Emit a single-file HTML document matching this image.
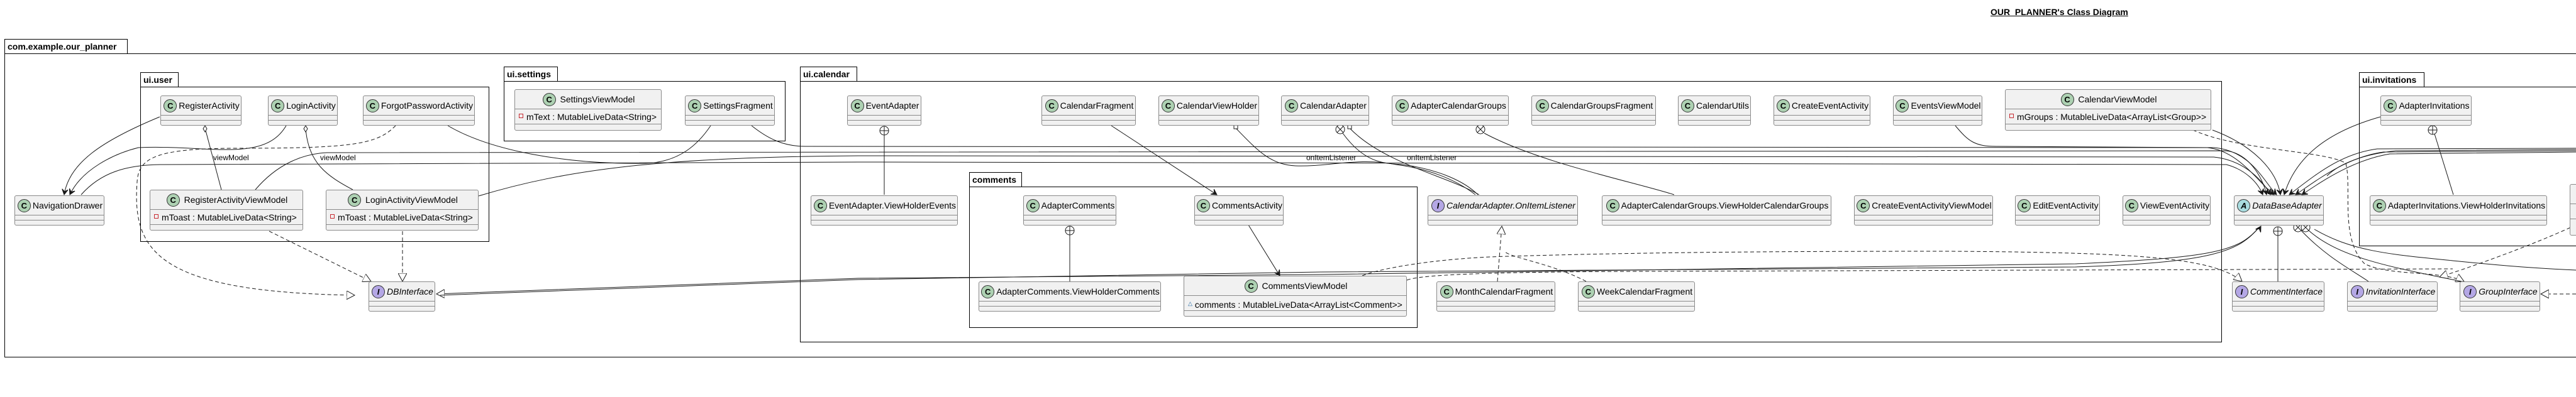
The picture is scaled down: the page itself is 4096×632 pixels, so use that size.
<!DOCTYPE html>
<html><head><meta charset="utf-8"><style>
body{margin:0;width:4096px;height:632px;background:#fff;position:relative;overflow:hidden;font-family:"Liberation Sans",sans-serif}
.c{position:absolute;background:#f1f1f1;border:1px solid #8a8a8a;border-radius:3px;box-sizing:border-box;font-size:14px;color:#000}
.h{height:31px;border-bottom:1px solid #8a8a8a;display:flex;align-items:center;justify-content:center;white-space:nowrap;gap:3px;box-sizing:border-box}
.s{height:8px;border-bottom:1px solid #8a8a8a;box-sizing:border-box}
.a{height:24px;border-bottom:1px solid #8a8a8a;box-sizing:border-box;font-size:14px;padding-left:6px;line-height:24px;white-space:nowrap}
.i{display:inline-block;width:19px;height:19px;border-radius:50%;border:1px solid #333;text-align:center;line-height:19px;font-weight:bold;font-size:13px;flex:none;margin-left:2px}
.C{background:#add1b2}.I{background:#b4a7e5}.A{background:#a9dcdf}
.it{font-style:italic}
.p{position:absolute;border:1.5px solid #000;box-sizing:border-box}
.t{position:absolute;border:1.5px solid #000;border-bottom:none;box-sizing:border-box;font-weight:bold;font-size:14px;padding:3px 4px;background:#fff;white-space:nowrap}
.sq{display:inline-block;width:5px;height:5px;border:1px solid #c82930;margin-right:5px;vertical-align:3px}
.tr{display:inline-block;color:#1963a0;font-size:9px;margin-right:4px;vertical-align:4px}
svg{position:absolute;left:0;top:0}
.lbl{font-size:12px}
</style></head><body>
<div style="position:absolute;left:3165px;top:11px;font-weight:bold;font-size:14px;text-decoration:underline">OUR&nbsp; PLANNER's Class Diagram</div>

<div class="t" style="left:7px;top:62px;width:196px;height:24px">com.example.our_planner</div>
<div class="p" style="left:7px;top:85px;width:4200px;height:484px"></div>

<div class="t" style="left:223px;top:115px;width:61px;height:24px">ui.user</div>
<div class="p" style="left:223px;top:138px;width:555px;height:247px"></div>
<div class="t" style="left:801px;top:106px;width:86px;height:24px">ui.settings</div>
<div class="p" style="left:801px;top:129px;width:448px;height:96px"></div>
<div class="t" style="left:1272px;top:106px;width:91px;height:24px">ui.calendar</div>
<div class="p" style="left:1272px;top:129px;width:2261px;height:416px"></div>
<div class="t" style="left:1541px;top:274px;width:84px;height:24px">comments</div>
<div class="p" style="left:1541px;top:297px;width:713px;height:225px"></div>
<div class="t" style="left:3751px;top:115px;width:104px;height:24px">ui.invitations</div>
<div class="p" style="left:3751px;top:138px;width:500px;height:254px"></div>

<svg width="4096" height="632" fill="none" stroke="#181818" stroke-width="1">
<defs>
<marker id="ar" markerWidth="10" markerHeight="10" refX="9" refY="5" orient="auto" markerUnits="userSpaceOnUse"><path d="M0,0 L9,5 L0,10 L4,5 Z" fill="#181818"/></marker>
<marker id="tri" markerWidth="14" markerHeight="14" refX="13" refY="7" orient="auto" markerUnits="userSpaceOnUse"><path d="M0,0 L13,7 L0,14 Z" fill="#fff" stroke="#181818"/></marker>
</defs>
<!-- ui.user connectors -->
<path d="M254,186 C160,225 110,260 102,310" marker-end="url(#ar)"/>
<path d="M455,200 C420,260 330,230 220,235 C180,245 130,270 111,310" marker-end="url(#ar)"/>
<path d="M129,310 C160,275 200,262 260,262 L1365,258 L3540,262 C3570,270 3590,290 3598,310" marker-end="url(#ar)"/>
<path d="M406,302 C440,262 480,245 520,243 L3540,240 C3580,245 3600,290 3604,310" marker-end="url(#ar)"/>
<path d="M761,312 C900,270 1050,250 1365,248 L3520,250 C3570,255 3600,290 3610,310" marker-end="url(#ar)"/>
<path d="M712,200 C780,240 900,262 1027,260 C1080,258 1110,230 1130,200"/>
<path d="M1195,200 C1220,220 1245,233 1280,233 L3510,235 C3560,240 3590,290 3616,310" marker-end="url(#ar)"/>
<path d="M629,200 C600,230 560,236 380,236 C250,236 220,250 218,290 C210,400 250,465 564,470" stroke-dasharray="6,4" marker-end="url(#tri)"/>
<path d="M326,204 L352,302"/><path d="M326,200 l-3,5 l3,5 l3,-5 z" fill="#fff"/>
<path d="M486,204 C490,260 520,280 561,302"/><path d="M486,200 l-3,5 l3,5 l3,-5 z" fill="#fff"/>
<path d="M428,368 L590,448" stroke-dasharray="6,4" marker-end="url(#tri)"/>
<path d="M640,368 L640,448" stroke-dasharray="6,4" marker-end="url(#tri)"/>
<path d="M3592,362 C3560,400 3520,410 3300,420 L2100,437 L1365,443 L694,468" marker-end="url(#tri)"/>
<path d="M3592,362 C3560,400 3520,418 3300,425 L2100,433 L1365,445 L700,470"/>
<!-- calendar -->
<path d="M1406,215 L1406,310"/><circle cx="1406" cy="208" r="7" fill="#fff"/><path d="M1399,208h14M1406,201v14"/>
<path d="M1767,200 L1935,310" marker-end="url(#ar)"/>
<path d="M1985,358 L2035,439" marker-end="url(#ar)"/>
<path d="M1701,374 L1701,448"/><circle cx="1701" cy="367" r="7" fill="#fff"/><path d="M1694,367h14M1701,360v14"/>
<path d="M1965,204 C2000,240 2020,262 2060,264 C2110,266 2160,250 2220,262 C2280,270 2320,290 2346,310"/><rect x="1962" y="199" width="6" height="6" fill="#fff"/>
<path d="M2135,212 C2170,260 2200,260 2230,262 C2290,270 2330,290 2350,310"/><circle cx="2131" cy="206" r="7" fill="#fff"/><path d="M2126,201l10,10M2136,201l-10,10"/>
<path d="M2146,204 C2200,260 2300,280 2352,310"/><rect x="2143" y="199" width="6" height="6" fill="#fff"/>
<path d="M2360,212 C2450,260 2600,290 2662,310"/><circle cx="2354" cy="206" r="7" fill="#fff"/><path d="M2349,201l10,10M2359,201l-10,10"/>
<path d="M2381,448 L2388,360" stroke-dasharray="6,4" marker-end="url(#tri)"/>
<path d="M2522,448 C2470,420 2400,410 2392,400" stroke-dasharray="6,4"/>
<path d="M2166,439 C2200,425 2300,410 2400,408 C2600,402 2800,400 3100,400 C3400,402 3520,410 3565,448" stroke-dasharray="6,4" marker-end="url(#tri)"/>
<path d="M2237,446 C2260,436 2400,433 2600,432 L3900,428" stroke-dasharray="6,4"/>
<path d="M3109,200 C3130,225 3140,233 3174,233 L3520,235 C3580,240 3600,290 3620,310" marker-end="url(#ar)"/>
<path d="M3518,207 C3580,230 3620,270 3626,310" marker-end="url(#ar)"/>
<path d="M3487,207 C3560,240 3700,240 3730,260 C3740,300 3720,380 3760,420 C3800,440 3880,430 3918,448" stroke-dasharray="6,4" marker-end="url(#tri)"/>
<path d="M3785,186 C3700,210 3650,250 3632,310" marker-end="url(#ar)"/>
<path d="M4096,236 L3780,237 C3720,245 3680,280 3640,310" marker-end="url(#ar)"/>
<path d="M4096,240 L3790,242 C3730,250 3680,290 3650,310" marker-end="url(#ar)"/>
<path d="M4096,242 L3800,245 C3740,255 3690,290 3660,310" marker-end="url(#ar)"/>
<path d="M4096,238 L3810,240 C3760,245 3720,260 3700,280"/>
<path d="M3871,213 L3901,310"/><circle cx="3868" cy="207" r="7" fill="#fff"/><path d="M3861,207h14M3868,200v14"/>
<path d="M3622,375 L3622,448"/><circle cx="3622" cy="368" r="7" fill="#fff"/><path d="M3615,368h14M3622,361v14"/>
<path d="M3659,367 C3700,410 3740,430 3766,448"/><circle cx="3654" cy="362" r="7" fill="#fff"/><path d="M3649,357l10,10M3659,357l-10,10"/>
<path d="M3671,367 C3720,410 3800,425 3914,448"/><circle cx="3666" cy="362" r="7" fill="#fff"/><path d="M3661,357l10,10M3671,357l-10,10"/>
<path d="M3680,365 C3740,400 3800,405 3900,415 C4000,425 4050,428 4096,430"/>
<path d="M4096,358 C4050,380 3960,415 3879,441" stroke-dasharray="6,4" marker-end="url(#tri)"/>
<path d="M4096,468 L4040,468" stroke-dasharray="6,4" marker-end="url(#tri)"/>
<path d="M3592,365 L3595,360" marker-end="url(#ar)"/>
</svg>
<svg width="4096" height="632" style="pointer-events:none">
<text class="lbl" x="339" y="255" font-family="Liberation Sans">viewModel</text>
<text class="lbl" x="509" y="255" font-family="Liberation Sans">viewModel</text>
<text class="lbl" x="2077" y="255" font-family="Liberation Sans">onItemListener</text>
<text class="lbl" x="2237" y="255" font-family="Liberation Sans">onItemListener</text>
</svg>

<!-- ui.user -->
<div class="c" style="left:255px;top:152px;width:129px;height:48px"><div class="h"><span class="i C">C</span>RegisterActivity</div><div class="s"></div></div>
<div class="c" style="left:426px;top:152px;width:111px;height:48px"><div class="h"><span class="i C">C</span>LoginActivity</div><div class="s"></div></div>
<div class="c" style="left:577px;top:152px;width:178px;height:48px"><div class="h"><span class="i C">C</span>ForgotPasswordActivity</div><div class="s"></div></div>
<div class="c" style="left:238px;top:302px;width:244px;height:65px"><div class="h"><span class="i C">C</span>&nbsp;RegisterActivityViewModel</div><div class="a"><span class="sq"></span>mToast : MutableLiveData&lt;String&gt;</div></div>
<div class="c" style="left:518px;top:302px;width:243px;height:65px"><div class="h"><span class="i C">C</span>&nbsp;LoginActivityViewModel</div><div class="a"><span class="sq"></span>mToast : MutableLiveData&lt;String&gt;</div></div>
<div class="c" style="left:23px;top:311px;width:143px;height:48px"><div class="h"><span class="i C">C</span>NavigationDrawer</div><div class="s"></div></div>
<div class="c" style="left:586px;top:448px;width:106px;height:48px"><div class="h it"><span class="i I">I</span>DBInterface</div><div class="s"></div></div>
<!-- settings -->
<div class="c" style="left:818px;top:142px;width:234px;height:66px"><div class="h"><span class="i C">C</span>&nbsp;SettingsViewModel</div><div class="a"><span class="sq"></span>mText : MutableLiveData&lt;String&gt;</div></div>
<div class="c" style="left:1089px;top:152px;width:143px;height:48px"><div class="h"><span class="i C">C</span>SettingsFragment</div><div class="s"></div></div>
<!-- calendar -->
<div class="c" style="left:1347px;top:152px;width:118px;height:48px"><div class="h"><span class="i C">C</span>EventAdapter</div><div class="s"></div></div>
<div class="c" style="left:1289px;top:311px;width:234px;height:48px"><div class="h"><span class="i C">C</span>EventAdapter.ViewHolderEvents</div><div class="s"></div></div>
<div class="c" style="left:1656px;top:152px;width:150px;height:48px"><div class="h"><span class="i C">C</span>CalendarFragment</div><div class="s"></div></div>
<div class="c" style="left:1842px;top:152px;width:160px;height:48px"><div class="h"><span class="i C">C</span>CalendarViewHolder</div><div class="s"></div></div>
<div class="c" style="left:2037px;top:152px;width:140px;height:48px"><div class="h"><span class="i C">C</span>CalendarAdapter</div><div class="s"></div></div>
<div class="c" style="left:2213px;top:152px;width:186px;height:48px"><div class="h"><span class="i C">C</span>AdapterCalendarGroups</div><div class="s"></div></div>
<div class="c" style="left:2435px;top:152px;width:198px;height:48px"><div class="h"><span class="i C">C</span>CalendarGroupsFragment</div><div class="s"></div></div>
<div class="c" style="left:2668px;top:152px;width:116px;height:48px"><div class="h"><span class="i C">C</span>CalendarUtils</div><div class="s"></div></div>
<div class="c" style="left:2820px;top:152px;width:154px;height:48px"><div class="h"><span class="i C">C</span>CreateEventActivity</div><div class="s"></div></div>
<div class="c" style="left:3010px;top:152px;width:142px;height:48px"><div class="h"><span class="i C">C</span>EventsViewModel</div><div class="s"></div></div>
<div class="c" style="left:3188px;top:142px;width:328px;height:66px"><div class="h"><span class="i C">C</span>&nbsp;CalendarViewModel</div><div class="a"><span class="sq"></span>mGroups : MutableLiveData&lt;ArrayList&lt;Group&gt;&gt;</div></div>
<div class="c" style="left:1627px;top:311px;width:148px;height:48px"><div class="h"><span class="i C">C</span>AdapterComments</div><div class="s"></div></div>
<div class="c" style="left:1899px;top:311px;width:142px;height:48px"><div class="h"><span class="i C">C</span>CommentsActivity</div><div class="s"></div></div>
<div class="c" style="left:1556px;top:448px;width:290px;height:48px"><div class="h"><span class="i C">C</span>AdapterComments.ViewHolderComments</div><div class="s"></div></div>
<div class="c" style="left:1882px;top:439px;width:355px;height:65px"><div class="h"><span class="i C">C</span>&nbsp;CommentsViewModel</div><div class="a"><span class="tr">△</span>comments : MutableLiveData&lt;ArrayList&lt;Comment&gt;&gt;</div></div>
<div class="c" style="left:2270px;top:311px;width:239px;height:48px"><div class="h it"><span class="i I">I</span>CalendarAdapter.OnItemListener</div><div class="s"></div></div>
<div class="c" style="left:2547px;top:311px;width:365px;height:48px"><div class="h"><span class="i C">C</span>AdapterCalendarGroups.ViewHolderCalendarGroups</div><div class="s"></div></div>
<div class="c" style="left:2284px;top:448px;width:189px;height:48px"><div class="h"><span class="i C">C</span>MonthCalendarFragment</div><div class="s"></div></div>
<div class="c" style="left:2509px;top:448px;width:186px;height:48px"><div class="h"><span class="i C">C</span>WeekCalendarFragment</div><div class="s"></div></div>
<div class="c" style="left:2948px;top:311px;width:221px;height:48px"><div class="h"><span class="i C">C</span>CreateEventActivityViewModel</div><div class="s"></div></div>
<div class="c" style="left:3204px;top:311px;width:135px;height:48px"><div class="h"><span class="i C">C</span>EditEventActivity</div><div class="s"></div></div>
<div class="c" style="left:3375px;top:311px;width:140px;height:48px"><div class="h"><span class="i C">C</span>ViewEventActivity</div><div class="s"></div></div>
<div class="c" style="left:3552px;top:311px;width:143px;height:48px"><div class="h it"><span class="i A">A</span>DataBaseAdapter</div><div class="s"></div></div>
<div class="c" style="left:3785px;top:152px;width:145px;height:48px"><div class="h"><span class="i C">C</span>AdapterInvitations</div><div class="s"></div></div>
<div class="c" style="left:3768px;top:311px;width:282px;height:48px"><div class="h"><span class="i C">C</span>AdapterInvitations.ViewHolderInvitations</div><div class="s"></div></div>
<div class="c" style="left:4086px;top:293px;width:200px;height:82px"><div class="h"></div><div class="a"></div></div>
<div class="c" style="left:3549px;top:448px;width:147px;height:48px"><div class="h it"><span class="i I">I</span>CommentInterface</div><div class="s"></div></div>
<div class="c" style="left:3732px;top:448px;width:144px;height:48px"><div class="h it"><span class="i I">I</span>InvitationInterface</div><div class="s"></div></div>
<div class="c" style="left:3911px;top:448px;width:128px;height:48px"><div class="h it"><span class="i I">I</span>GroupInterface</div><div class="s"></div></div>
</body></html>
